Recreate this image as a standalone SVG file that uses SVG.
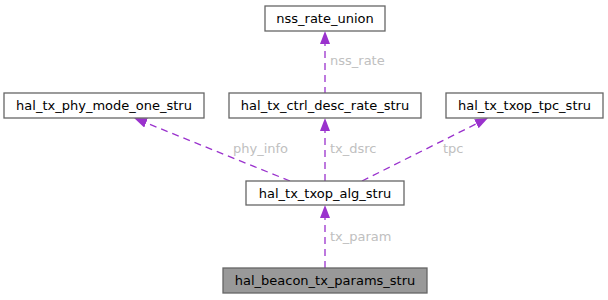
<svg xmlns="http://www.w3.org/2000/svg" width="608" height="300" viewBox="0 0 608 300">
<defs>
<style>
.box{fill:#ffffff;stroke:#666666;stroke-width:1.3}
.cur{fill:#999999;stroke:#666666;stroke-width:1.3}
.nt{font-family:"DejaVu Sans",sans-serif;font-size:13px;fill:#000000;text-anchor:middle}
.el{font-family:"DejaVu Sans",sans-serif;font-size:13px;fill:#c0c0c0}
.edge{fill:none;stroke:#9a32cd;stroke-width:1.3;stroke-dasharray:7,5;marker-end:url(#ah)}
</style>
<marker id="ah" markerUnits="userSpaceOnUse" markerWidth="14" markerHeight="12" refX="0" refY="5" orient="auto" viewBox="0 0 14 12">
<path d="M0,0 L13,5 L0,10 Z" fill="#9a32cd"/>
</marker>
</defs>
<rect width="608" height="300" fill="#ffffff"/>
<g id="edges">
<path class="edge" d="M325,94 L325,44"/>
<text class="el" x="330" y="65">nss_rate</text>
<path class="edge" d="M290,181 L146.1,122.9"/>
<text class="el" x="233" y="153">phy_info</text>
<path class="edge" d="M325,181 L325,131"/>
<text class="el" x="330" y="153">tx_dsrc</text>
<path class="edge" d="M362,181 L476.4,123.8"/>
<text class="el" x="443" y="153">tpc</text>
<path class="edge" d="M325,268 L325,218"/>
<text class="el" x="330" y="241">tx_param</text>
</g>
<g id="nss_rate_union">
<rect class="box" x="265" y="6" width="120" height="25"/>
<text class="nt" x="325" y="23">nss_rate_union</text>
</g>
<g id="hal_tx_phy_mode_one_stru">
<rect class="box" x="4" y="93" width="200" height="25"/>
<text class="nt" x="104" y="110">hal_tx_phy_mode_one_stru</text>
</g>
<g id="hal_tx_ctrl_desc_rate_stru">
<rect class="box" x="229" y="93" width="192" height="25"/>
<text class="nt" x="325" y="110">hal_tx_ctrl_desc_rate_stru</text>
</g>
<g id="hal_tx_txop_tpc_stru">
<rect class="box" x="446" y="93" width="157" height="25"/>
<text class="nt" x="524.5" y="110">hal_tx_txop_tpc_stru</text>
</g>
<g id="hal_tx_txop_alg_stru">
<rect class="box" x="246" y="181" width="158" height="24"/>
<text class="nt" x="325" y="197.5">hal_tx_txop_alg_stru</text>
</g>
<g id="hal_beacon_tx_params_stru">
<rect class="cur" x="223" y="268" width="204" height="25"/>
<text class="nt" x="325" y="285">hal_beacon_tx_params_stru</text>
</g>
</svg>
